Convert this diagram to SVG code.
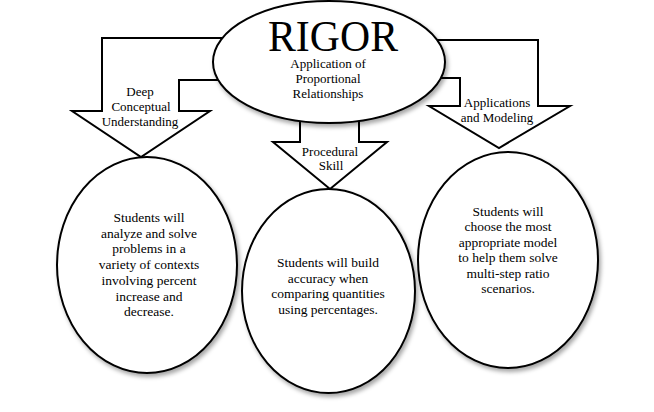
<svg xmlns="http://www.w3.org/2000/svg" width="654" height="412" viewBox="0 0 654 412">
<defs>
<filter id="sh" x="-10%" y="-10%" width="125%" height="125%">
<feDropShadow dx="2" dy="3" stdDeviation="2" flood-color="#000" flood-opacity="0.35"/>
</filter>
<style>
.ar{fill:#fff;stroke:#000;stroke-width:2;stroke-linejoin:miter}
.el{fill:#fff;stroke:#000;stroke-width:2;filter:url(#sh)}
text{font-family:'Liberation Serif','DejaVu Serif',serif;fill:#000;text-anchor:middle}
.lb{font-size:13px}
.bd{font-size:13.5px}
</style>
</defs>
<rect width="654" height="412" fill="#fff"/>
<g id="connectors" font-family="Liberation Serif, DejaVu Serif, serif">
<path class="ar" d="M260 38 L102 38 L102 111 L72 111 L141 157 L210 111 L179 111 L179 80 L260 80"/>
<path class="ar" d="M400 40 L538 40 L538 106 L570 106 L499 148 L429 106 L460 106 L460 78 L400 78"/>
<path class="ar" d="M300 100 L300 142 L273 142 L330 189 L387 142 L359 142 L359 100"/>
<text class="lb" x="140" y="96">Deep</text>
<text class="lb" x="141" y="111">Conceptual</text>
<text class="lb" x="140" y="126">Understanding</text>
<text class="lb" x="497" y="107">Applications</text>
<text class="lb" x="497" y="122">and Modeling</text>
<text class="lb" x="330" y="156">Procedural</text>
<text class="lb" x="331" y="170">Skill</text>
</g>
<g id="rigor" font-family="Liberation Serif, DejaVu Serif, serif">
<ellipse class="el" cx="329" cy="62" rx="116" ry="61"/>
<text x="333" y="51" font-size="44" textLength="130" lengthAdjust="spacingAndGlyphs">RIGOR</text>
<text class="lb" x="328" y="68">Application of</text>
<text class="lb" x="328" y="83">Proportional</text>
<text class="lb" x="328" y="98">Relationships</text>
</g>
<g id="deep" font-family="Liberation Serif, DejaVu Serif, serif">
<ellipse class="el" cx="147" cy="265" rx="90" ry="108"/>
<text class="bd" x="149" y="222">Students will</text>
<text class="bd" x="149" y="237.7">analyze and solve</text>
<text class="bd" x="149" y="253.4">problems in a</text>
<text class="bd" x="149" y="269.1">variety of contexts</text>
<text class="bd" x="149" y="284.8">involving percent</text>
<text class="bd" x="149" y="300.5">increase and</text>
<text class="bd" x="149" y="316.2">decrease.</text>
</g>
<g id="procedural" font-family="Liberation Serif, DejaVu Serif, serif">
<ellipse class="el" cx="328.5" cy="291" rx="86.5" ry="102"/>
<text class="bd" x="328" y="267">Students will build</text>
<text class="bd" x="328" y="282.5">accuracy when</text>
<text class="bd" x="328" y="298">comparing quantities</text>
<text class="bd" x="328" y="313.5">using percentages.</text>
</g>
<g id="modeling" font-family="Liberation Serif, DejaVu Serif, serif">
<ellipse class="el" cx="508" cy="260" rx="90" ry="108"/>
<text class="bd" x="508" y="215.5">Students will</text>
<text class="bd" x="508" y="231">choose the most</text>
<text class="bd" x="508" y="246.5">appropriate model</text>
<text class="bd" x="508" y="262">to help them solve</text>
<text class="bd" x="508" y="277.5">multi-step ratio</text>
<text class="bd" x="508" y="293">scenarios.</text>
</g>
</svg>
